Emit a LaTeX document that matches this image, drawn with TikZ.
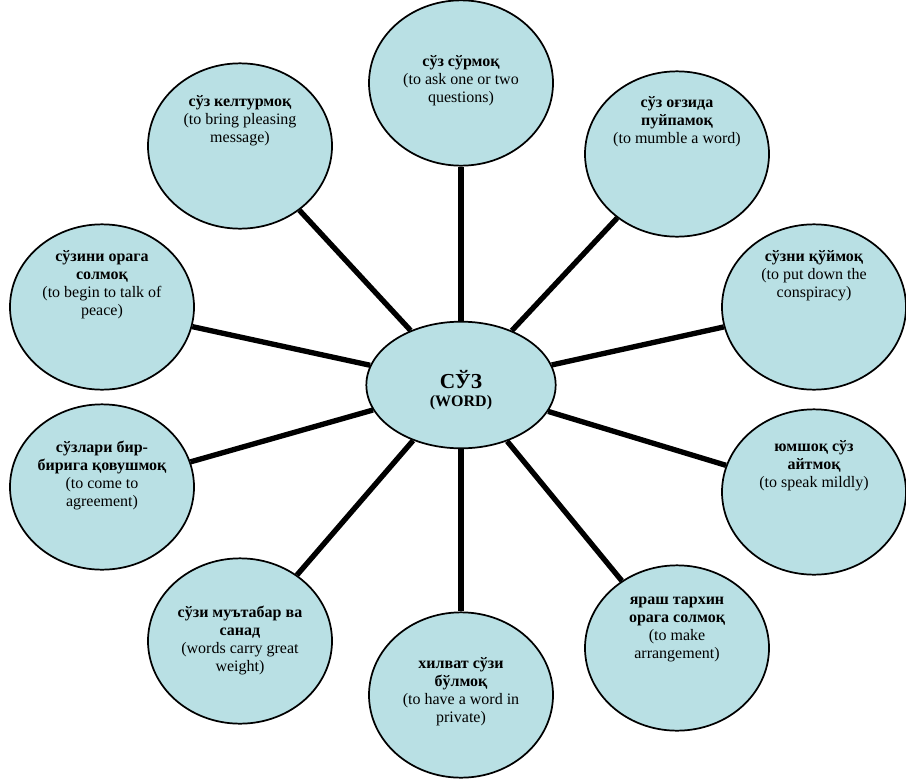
\documentclass[tikz,border=0pt]{standalone}
\usepackage{fontspec}
\setmainfont{Liberation Serif}
\usepackage{xcolor}
\usepackage{tikz}
\usetikzlibrary{shapes.geometric}

\definecolor{bubblefill}{RGB}{185,224,228}

\begin{document}
\begin{tikzpicture}[
  x=0.75pt, y=-0.75pt,
  every node/.style={font=\fontsize{12pt}{13.5pt}\selectfont},
  bubble/.style={ellipse, draw=black, line width=1.3pt, fill=bubblefill,
                 minimum width=138pt, minimum height=124pt, inner sep=0pt},
  hub/.style={bubble, minimum width=142pt, minimum height=95pt},
  phrase/.style={align=center, inner sep=0pt},
  spoke/.style={line width=4pt, black},
]
  \useasboundingbox (0,0) rectangle (906,778);

  % ── Centre ───────────────────────────────────────
  \node[hub]    (word)    at (461,385) {};
  \node[phrase] (wordt)   at (461,390)
        {{\fontsize{16pt}{18pt}\selectfont\bfseries СЎЗ}\\\textbf{(WORD)}};

  % ── Outer ellipses ───────────────────────────────
  \node[bubble] (ask)     at (461, 83) {};
  \node[bubble] (bring)   at (240,146) {};
  \node[bubble] (mumble)  at (677,154) {};
  \node[bubble] (peace)   at (102,307) {};
  \node[bubble] (plot)    at (814,307) {};
  \node[bubble] (agree)   at (102,487) {};
  \node[bubble] (mild)    at (814,492) {};
  \node[bubble] (weight)  at (240,641) {};
  \node[bubble] (arrange) at (677,648) {};
  \node[bubble] (private) at (461,695) {};

  % ── Phrases ──────────────────────────────────────
  \node[phrase] (askt)     at (461, 81) {\textbf{сўз сўрмоқ}\\(to ask one or two\\questions)};
  \node[phrase] (bringt)   at (240,121) {\textbf{сўз келтурмоқ}\\(to bring pleasing\\message)};
  \node[phrase] (mumblet)  at (677,122) {\textbf{сўз оғзида}\\\textbf{пуйпамоқ}\\(to mumble a word)};
  \node[phrase] (peacet)   at (102,285) {\textbf{сўзини орага}\\\textbf{солмоқ}\\(to begin to talk of\\peace)};
  \node[phrase] (plott)    at (814,276) {\textbf{сўзни қўймоқ}\\(to put down the\\conspiracy)};
  \node[phrase] (agreet)   at (102,475) {\textbf{сўзлари бир-}\\\textbf{бирига қовушмоқ}\\(to come to\\agreement)};
  \node[phrase] (mildt)    at (814,466) {\textbf{юмшоқ сўз}\\\textbf{айтмоқ}\\(to speak mildly)};
  \node[phrase] (weightt)  at (240,640) {\textbf{сўзи муътабар ва}\\\textbf{санад}\\(words carry great\\weight)};
  \node[phrase] (arranget) at (677,629) {\textbf{яраш тархин}\\\textbf{орага солмоқ}\\(to make\\arrangement)};
  \node[phrase] (privatet) at (461,692) {\textbf{хилват сўзи}\\\textbf{бўлмоқ}\\(to have a word in\\private)};

  % ── Spokes ───────────────────────────────────────
  \foreach \n in {ask,bring,mumble,peace,plot,agree,mild,weight,arrange,private}
    \draw[spoke] (word) -- (\n);

\end{tikzpicture}
\end{document}
